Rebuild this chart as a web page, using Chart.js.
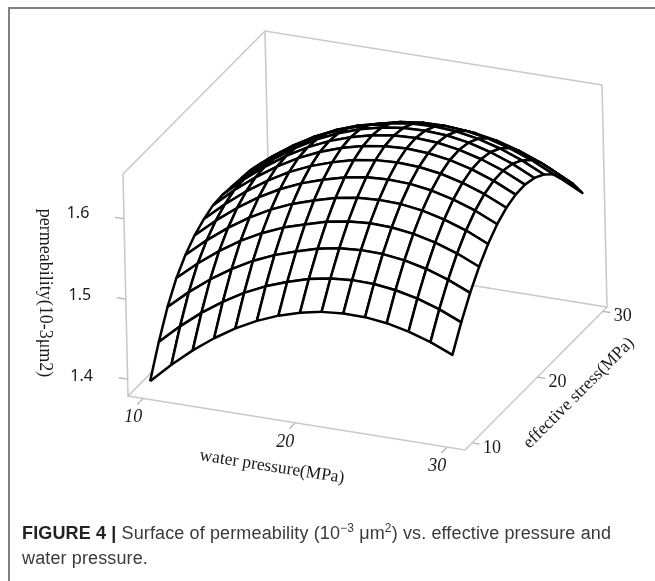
<!DOCTYPE html>
<html>
<head>
<meta charset="utf-8">
<title>Surface of permeability</title>
<script src="https://cdn.jsdelivr.net/npm/chart.js@4"></script>
<style>
    html, body { margin: 0; padding: 0; background: #fff; }
    #page { position: relative; width: 655px; height: 581px; overflow: hidden; }
    #frame { position: absolute; left: 8px; top: 7px; right: -4px; bottom: -4px; border-left: 2px solid #808080; border-top: 2px solid #808080; }
    #plot { position: absolute; left: 0; top: 0; }
    #caption { position: absolute; left: 22px; top: 521px; width: 625px; font: 18px/25px "Liberation Sans", sans-serif; color: #3a3a3a; letter-spacing: 0.13px; white-space: nowrap; }
    #caption b { color: #222; }
    #caption sup { font-size: 12px; line-height: 0; }
</style>
</head>
<body>
<div id="page">
    <div id="frame"></div>
    <canvas id="plot" width="655" height="581"></canvas>
    <div id="caption"><b>FIGURE 4 |</b> Surface of permeability (10<sup>−3</sup> μm<sup>2</sup>) vs. effective pressure and<br>water pressure.</div>
</div>
<script>
const waterTicks = [10, 20, 30];
const stressTicks = [10, 20, 30];
const permTicks = [1.4, 1.5, 1.6];

const waterRange = [9.0, 31.17];
const stressRange = [8.91, 30.65];
const permRange = [1.379, 1.656];

const waterGrid = [10, 11.43, 12.86, 14.29, 15.71, 17.14, 18.57, 20, 21.43, 22.86, 24.29, 25.71, 27.14, 28.57, 30];
const stressGrid = [10, 11.43, 12.86, 14.29, 15.71, 17.14, 18.57, 20, 21.43, 22.86, 24.29, 25.71, 27.14, 28.57, 30];

// one row per stress value, one column per water pressure value
const permeability = [
    [1.3915, 1.4165, 1.4387, 1.4582, 1.4748, 1.4885, 1.4994, 1.5075, 1.5128, 1.5152, 1.5149, 1.5117, 1.5056, 1.4968, 1.4851],
    [1.4288, 1.4526, 1.4737, 1.4919, 1.5074, 1.5199, 1.5296, 1.5376, 1.5427, 1.5450, 1.5445, 1.5411, 1.5349, 1.5259, 1.5141],
    [1.4607, 1.4836, 1.5037, 1.5210, 1.5355, 1.5471, 1.5559, 1.5637, 1.5686, 1.5707, 1.5701, 1.5666, 1.5602, 1.5510, 1.5390],
    [1.4852, 1.5076, 1.5274, 1.5444, 1.5584, 1.5697, 1.5780, 1.5856, 1.5905, 1.5924, 1.5916, 1.5879, 1.5813, 1.5721, 1.5599],
    [1.5021, 1.5248, 1.5447, 1.5619, 1.5761, 1.5876, 1.5962, 1.6036, 1.6083, 1.6100, 1.6091, 1.6053, 1.5985, 1.5891, 1.5767],
    [1.5147, 1.5376, 1.5578, 1.5753, 1.5898, 1.6015, 1.6103, 1.6176, 1.6221, 1.6237, 1.6226, 1.6186, 1.6117, 1.6021, 1.5896],
    [1.5232, 1.5464, 1.5669, 1.5845, 1.5994, 1.6113, 1.6203, 1.6275, 1.6318, 1.6333, 1.6320, 1.6278, 1.6208, 1.6110, 1.5984],
    [1.5288, 1.5521, 1.5726, 1.5903, 1.6052, 1.6172, 1.6264, 1.6334, 1.6375, 1.6388, 1.6374, 1.6331, 1.6259, 1.6159, 1.6031],
    [1.5300, 1.5534, 1.5740, 1.5920, 1.6069, 1.6190, 1.6283, 1.6351, 1.6392, 1.6403, 1.6387, 1.6342, 1.6268, 1.6168, 1.6038],
    [1.5287, 1.5520, 1.5724, 1.5903, 1.6051, 1.6171, 1.6263, 1.6329, 1.6368, 1.6377, 1.6360, 1.6314, 1.6238, 1.6136, 1.6004],
    [1.5273, 1.5498, 1.5695, 1.5865, 1.6005, 1.6117, 1.6201, 1.6266, 1.6303, 1.6311, 1.6292, 1.6244, 1.6167, 1.6063, 1.5930],
    [1.5259, 1.5468, 1.5652, 1.5807, 1.5933, 1.6031, 1.6099, 1.6163, 1.6198, 1.6205, 1.6184, 1.6134, 1.6056, 1.5950, 1.5816],
    [1.5218, 1.5411, 1.5578, 1.5715, 1.5824, 1.5906, 1.5958, 1.6020, 1.6053, 1.6058, 1.6036, 1.5985, 1.5905, 1.5797, 1.5661],
    [1.5162, 1.5333, 1.5479, 1.5597, 1.5684, 1.5745, 1.5775, 1.5835, 1.5868, 1.5871, 1.5847, 1.5794, 1.5712, 1.5604, 1.5466],
    [1.5093, 1.5239, 1.5360, 1.5451, 1.5511, 1.5548, 1.5553, 1.5611, 1.5642, 1.5643, 1.5618, 1.5564, 1.5480, 1.5370, 1.5230]
];

const GREY = '#c9c9c9';
const TICK_GREY = '#b5b5b5';

// Fixed oblique view of the 3D box, returns page coordinates for the hidden scales
function project(water, stress, perm) {
    const u = (water - waterRange[0]) / (waterRange[1] - waterRange[0]);
    const v = (stress - stressRange[0]) / (stressRange[1] - stressRange[0]);
    const w = (perm - permRange[0]) / (permRange[1] - permRange[0]);
    return {
        x: 128 + 337 * u + 142 * v - 5 * w,
        y: 396 + 54 * u - 143 * v - 222 * w
    };
}

function greyLine(points, color, width) {
    return {
        data: points.map(p => project(p[0], p[1], p[2])),
        showLine: true,
        borderColor: color || GREY,
        borderWidth: width || 1.6,
        pointRadius: 0,
        fill: false
    };
}

// Surface cells: the first dataset is painted last, so nearest cells come first
function buildSurface() {
    const cells = [];
    for (let j = 0; j < stressGrid.length - 1; j++) {
        for (let i = waterGrid.length - 2; i >= 0; i--) {
            const corners = [[i, j], [i + 1, j], [i + 1, j + 1], [i, j + 1], [i, j]];
            cells.push({
                data: corners.map(c => project(waterGrid[c[0]], stressGrid[c[1]], permeability[c[1]][c[0]])),
                showLine: true,
                borderColor: '#000',
                borderWidth: 2.5,
                borderJoinStyle: 'round',
                backgroundColor: '#fff',
                pointRadius: 0,
                tension: 0,
                fill: 'shape'
            });
        }
    }
    return cells;
}

function buildBox() {
    const [w0, w1] = waterRange;
    const [s0, s1] = stressRange;
    const [p0, p1] = permRange;
    const edges = [
        [[w0, s0, p0], [w1, s0, p0], [w1, s1, p0]],
        [[w0, s0, p1], [w0, s0, p0], [w0, s1, p0], [w1, s1, p0], [w1, s1, p1]],
        [[w0, s0, p1], [w0, s1, p1], [w1, s1, p1]],
        [[w0, s1, p1], [w0, s1, p0]]
    ];
    const lines = edges.map(e => greyLine(e));

    permTicks.forEach(t => lines.push(greyLine([[w0, s0, t], [w0 - 0.6, s0, t]], TICK_GREY, 1.3)));
    waterTicks.forEach(t => lines.push(greyLine([[t, s0, p0], [t, s0 - 0.9, p0]], TICK_GREY, 1.3)));
    stressTicks.forEach(t => lines.push(greyLine([[w1, t, p0], [w1 + 0.5, t, p0]], TICK_GREY, 1.3)));
    return lines;
}

function drawText(ctx, text, x, y, font, angle, stretch) {
    ctx.save();
    ctx.translate(x, y);
    ctx.rotate((angle || 0) * Math.PI / 180);
    ctx.scale(stretch || 1, 1);
    ctx.font = font;
    ctx.fillStyle = '#1a1a1a';
    ctx.textAlign = 'center';
    ctx.textBaseline = 'middle';
    ctx.fillText(text, 0, 0);
    ctx.restore();
}

const boxLabels = {
    id: 'boxLabels',
    afterDatasetsDraw(chart) {
        const { ctx, scales } = chart;
        const at = (w, s, p) => {
            const pt = project(w, s, p);
            return { x: scales.x.getPixelForValue(pt.x), y: scales.y.getPixelForValue(pt.y) };
        };

        permTicks.forEach(t => {
            const pt = at(waterRange[0], stressRange[0], t);
            drawText(ctx, t.toFixed(1), pt.x - 46, pt.y - 5 + (1.6 - t) * 10, '16px "Noto Sans"');
        });
        waterTicks.forEach(t => {
            const pt = at(t, stressRange[0], permRange[0]);
            drawText(ctx, String(t), pt.x - 10, pt.y + 19, 'italic 18px "Liberation Serif"');
        });
        stressTicks.forEach(t => {
            const pt = at(waterRange[1], t, permRange[0]);
            drawText(ctx, String(t), pt.x + 20, pt.y + 5, '18px "Liberation Serif"');
        });

        drawText(ctx, 'water pressure(MPa)', 272, 467, '17.5px "Liberation Serif"', 9);
        drawText(ctx, 'effective stress(MPa)', 579, 393, '17.5px "Liberation Serif"', -45);
        drawText(ctx, 'permeability(10-3μm2)', 45, 293, '18px "Liberation Serif"', 90);
    }
};

new Chart(document.getElementById('plot'), {
    type: 'scatter',
    data: { datasets: buildSurface().concat(buildBox()) },
    options: {
        responsive: false,
        animation: false,
        events: [],
        layout: { padding: 0 },
        plugins: { legend: { display: false }, tooltip: { enabled: false } },
        scales: {
            x: { type: 'linear', display: false, min: 0, max: 655 },
            y: { type: 'linear', display: false, min: 0, max: 581, reverse: true }
        }
    },
    plugins: [boxLabels]
});
</script>
</body>
</html>
